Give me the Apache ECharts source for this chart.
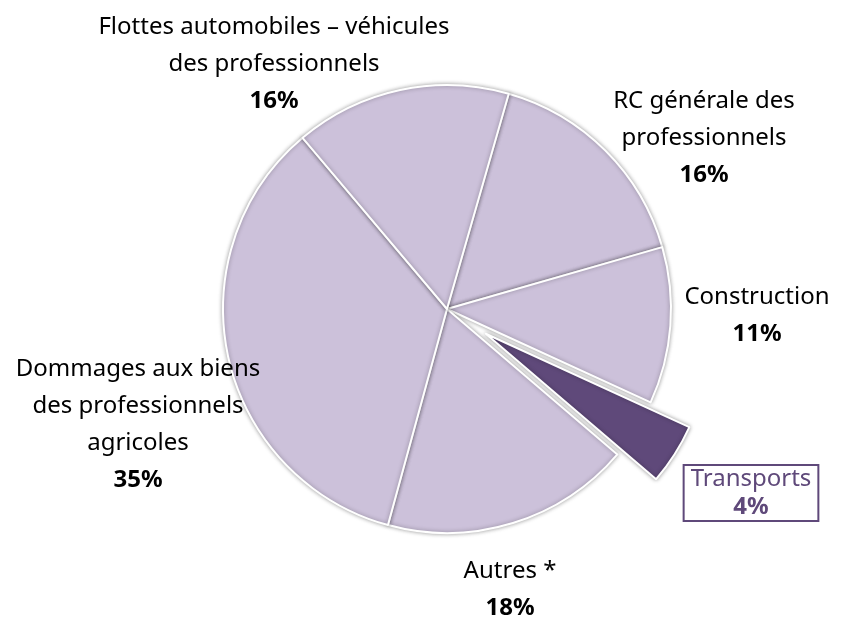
<!DOCTYPE html>
<html>
<head>
<meta charset="utf-8">
<script src="https://cdn.jsdelivr.net/npm/echarts@6/dist/echarts.min.js"></script>
<style>
  html, body { margin: 0; padding: 0; background: #fff; }
  #chart { width: 841px; height: 619px; }
</style>
</head>
<body>
<div id="chart"></div>
<script>
// branches, clockwise from the RC slice
var categories = ['RC générale des\nprofessionnels', 'Construction', 'Transports', 'Autres *', 'Dommages aux biens\ndes professionnels\nagricoles', 'Flottes automobiles – véhicules\ndes professionnels'];
var values = [16.1, 11.3, 4.4, 18.0, 34.6, 15.6];

// where each label block sits (centre of block)
var labelPos = [[704, 138], [757, 316], [751, 493], [510, 590], [138, 425], [274, 64]];

var light = '#CCC1DA';
var dark = '#5F497A';
var highlight = 'Transports';

var chart = echarts.init(document.getElementById('chart'));

var data = [];
var hiIndex = -1;
for (var i = 0; i < categories.length; i++) {
    var item = {
        name: categories[i],
        value: values[i],
        itemStyle: { color: light }
    };
    if (categories[i] == highlight) {
        hiIndex = i;
        item.selected = true;
        item.itemStyle = { color: dark };
        item.label = { show: false };
    }
    data.push(item);
}

var option = {
    backgroundColor: '#fff',
    animation: false,
    graphic: [{
        type: 'text',
        x: labelPos[hiIndex][0],
        y: labelPos[hiIndex][1],
        style: {
            text: '{n|' + categories[hiIndex] + '}\n{p|' + Math.round(values[hiIndex]) + '%}',
            align: 'center',
            verticalAlign: 'middle',
            borderColor: dark,
            borderWidth: 2,
            padding: [0, 7, 0, 7],
            rich: {
                n: { fontSize: 24, lineHeight: 28, fill: dark, fontFamily: 'Noto Sans', align: 'center' },
                p: { fontSize: 24, lineHeight: 28, fill: dark, fontWeight: 'bold', fontFamily: 'Noto Sans', align: 'center' }
            }
        }
    }],
    series: [{
        type: 'pie',
        center: [447, 309],
        radius: 224,
        startAngle: 74,
        clockwise: true,
        selectedMode: 'single',
        selectedOffset: 46,
        avoidLabelOverlap: false,
        itemStyle: {
            borderColor: '#fff',
            borderWidth: 2,
            shadowBlur: 4,
            shadowColor: 'rgba(0,0,0,0.35)'
        },
        emphasis: { disabled: true },
        labelLine: { show: false },
        label: {
            show: true,
            position: 'outside',
            formatter: function (p) {
                var lines = p.name.split('\n').map(function (s) { return '{n|' + s + '}'; });
                return lines.join('\n') + '\n{p|' + Math.round(p.value) + '%}';
            },
            rich: {
                n: { fontSize: 24, lineHeight: 37, color: '#000', fontFamily: 'Noto Sans' },
                p: { fontSize: 24, lineHeight: 37, color: '#000', fontWeight: 'bold', fontFamily: 'Noto Sans' }
            }
        },
        labelLayout: function (params) {
            var pos = labelPos[params.dataIndex];
            return { x: pos[0], y: pos[1], align: 'center', verticalAlign: 'middle', hideOverlap: false };
        },
        data: data
    }]
};

option && chart.setOption(option);
</script>
</body>
</html>
